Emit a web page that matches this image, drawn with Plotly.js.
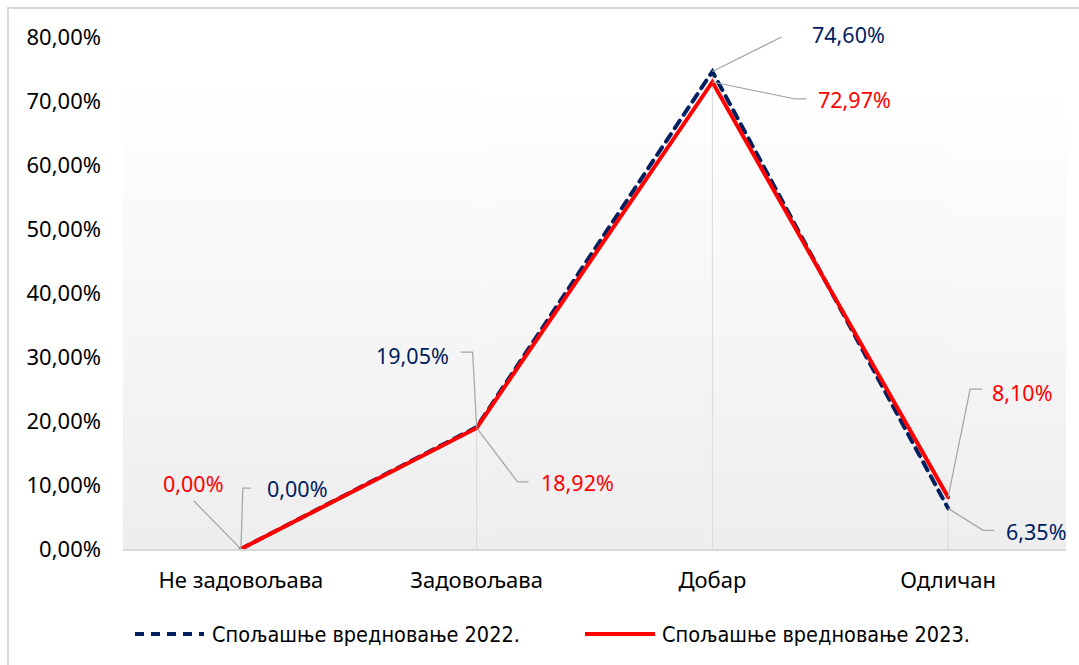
<!DOCTYPE html>
<html>
<head>
<meta charset="utf-8">
<script src="https://cdn.plot.ly/plotly-3.0.1.min.js"></script>
<style>
  html, body { margin: 0; padding: 0; background: #fff; }
  #wrap { position: relative; width: 1079px; height: 665px; }
  #chart { width: 1079px; height: 665px; }
  #frame { position: absolute; left: 7px; top: 7px; right: 0; bottom: 0;
           border-left: 2px solid #D9D9D9; border-top: 2px solid #D9D9D9; pointer-events: none; }
  .scatterlayer .js-line { stroke-linecap: round; }
</style>
</head>
<body>
<div id="wrap"><div id="chart"></div><div id="frame"></div></div>
<script>
const categories = ["Не задовољава", "Задовољава", "Добар", "Одличан"];
const series2022 = [0.00, 19.05, 74.60, 6.35];
const series2023 = [0.00, 18.92, 72.97, 8.10];
const seriesNames = ["Спољашње вредновање 2022.", "Спољашње вредновање 2023."];
const yTicks = [0, 10, 20, 30, 40, 50, 60, 70, 80];

const navy = "#002060";
const red = "#FF0000";
const leaderColor = "#A6A6A6";
const font = "Noto Sans, Open Sans, sans-serif";

function fmt(v) { return v.toFixed(2).replace(".", ",") + "%"; }

// gradient background for plot area
const cv = document.createElement("canvas");
cv.width = 4; cv.height = 256;
const ctx = cv.getContext("2d");
const g = ctx.createLinearGradient(0, 0, 0, 256);
g.addColorStop(0, "#FFFFFF");
g.addColorStop(0.1, "#FFFFFF");
g.addColorStop(1, "#EEEEEE");
ctx.fillStyle = g; ctx.fillRect(0, 0, 4, 256);
const bgImg = cv.toDataURL();

// drop lines (from axis to highest point of each category)
const dropX = [], dropY = [];
categories.forEach((c, i) => {
  dropX.push(c, c, null);
  dropY.push(0, Math.max(series2022[i], series2023[i]), null);
});

const traces = [
  { x: dropX, y: dropY, mode: "lines", line: { color: "#D9D9D9", width: 1 },
    hoverinfo: "skip", showlegend: false },
  { x: categories, y: series2022, mode: "lines", name: seriesNames[0],
    line: { color: navy, width: 4, dash: "9px,7px" }, showlegend: false },
  { x: categories, y: series2023, mode: "lines", name: seriesNames[1],
    line: { color: red, width: 4 }, showlegend: false }
];

// label placement (pixel offsets from each point): [leader path, label dx, label dy, anchor]
const place2022 = [
  { path: "M0,0 L2,61 L10,61", dx: 24, dy: 61, anchor: "left" },
  { path: "M0,0 L-4,75 L-16,75", dx: -26, dy: 72, anchor: "right" },
  { path: "M0,0 L76,38 L90,38", dx: 98, dy: 37, anchor: "left" },
  { path: "M0,0 L35,-22 L46,-22", dx: 56, dy: -23, anchor: "left" }
];
const place2023 = [
  { path: "M0,0 L-47,48", dx: -47, dy: 66, anchor: "center" },
  { path: "M0,0 L41,-54 L52,-54", dx: 62, dy: -55, anchor: "left" },
  { path: "M0,0 L83,-17 L94,-17", dx: 104, dy: -18, anchor: "left" },
  { path: "M0,0 L22,108 L34,108", dx: 42, dy: 105, anchor: "left" }
];

const shapes = [];
const annotations = [];
function addLabels(vals, place, color) {
  vals.forEach((v, i) => {
    const p = place[i];
    shapes.push({ type: "path", xref: "x", yref: "y", xsizemode: "pixel", ysizemode: "pixel",
      xanchor: i, yanchor: v, path: p.path, line: { color: leaderColor, width: 1.25 }, layer: "above" });
    annotations.push({ x: i, y: v, xref: "x", yref: "y", text: fmt(v), showarrow: false,
      xshift: p.dx, yshift: p.dy, xanchor: p.anchor, yanchor: "middle",
      font: { family: font, size: 21.5, color: color } });
  });
}
addLabels(series2022, place2022, navy);
addLabels(series2023, place2023, red);

// custom legend (paper coords)
const plotL = 123, plotR = 1066, plotT = 37, plotB = 549;
const px = (x) => (x - plotL) / (plotR - plotL);
const py = (y) => (plotB - y) / (plotB - plotT);
const legendY = 634;
const legendItems = [
  { x0: 135, x1: 204, tx: 210, color: navy, dash: "9px,7px", name: seriesNames[0] },
  { x0: 585, x1: 655, tx: 660, color: red, dash: "solid", name: seriesNames[1] }
];
legendItems.forEach(it => {
  shapes.push({ type: "line", xref: "paper", yref: "paper", x0: px(it.x0), x1: px(it.x1),
    y0: py(legendY), y1: py(legendY), line: { color: it.color, width: 4, dash: it.dash } });
  annotations.push({ xref: "paper", yref: "paper", x: px(it.tx), y: py(legendY), text: it.name,
    showarrow: false, xanchor: "left", yanchor: "middle",
    font: { family: "Liberation Sans Narrow, DejaVu Sans Condensed, Noto Sans, sans-serif", size: 21.5, color: "#000" } });
});

const tickFont = { family: font, size: 22, color: "#000" };
const layout = {
  width: 1079, height: 665,
  margin: { l: plotL, r: 1079 - plotR, t: plotT, b: 665 - plotB },
  paper_bgcolor: "#FFFFFF",
  plot_bgcolor: "rgba(0,0,0,0)",
  separators: ", ",
  showlegend: false,
  font: { family: font, size: 22, color: "#000" },
  xaxis: {
    type: "category", range: [-0.5, 3.5], showgrid: false, zeroline: false,
    showline: true, linecolor: "#D9D9D9", linewidth: 1.5, ticks: "",
    tickfont: tickFont, ticklabelstandoff: 11, fixedrange: true
  },
  yaxis: {
    range: [0, 80], tickvals: yTicks, ticktext: yTicks.map(fmt), showgrid: false, zeroline: false,
    showline: false, ticks: "", tickfont: tickFont,
    ticklabelstandoff: 21, fixedrange: true
  },
  images: [{ source: bgImg, xref: "paper", yref: "paper", x: 0, y: 1, sizex: 1, sizey: 1,
    sizing: "stretch", xanchor: "left", yanchor: "top", layer: "below" }],
  shapes: shapes,
  annotations: annotations
};

Plotly.newPlot("chart", traces, layout, { displayModeBar: false, staticPlot: true });
</script>
</body>
</html>
